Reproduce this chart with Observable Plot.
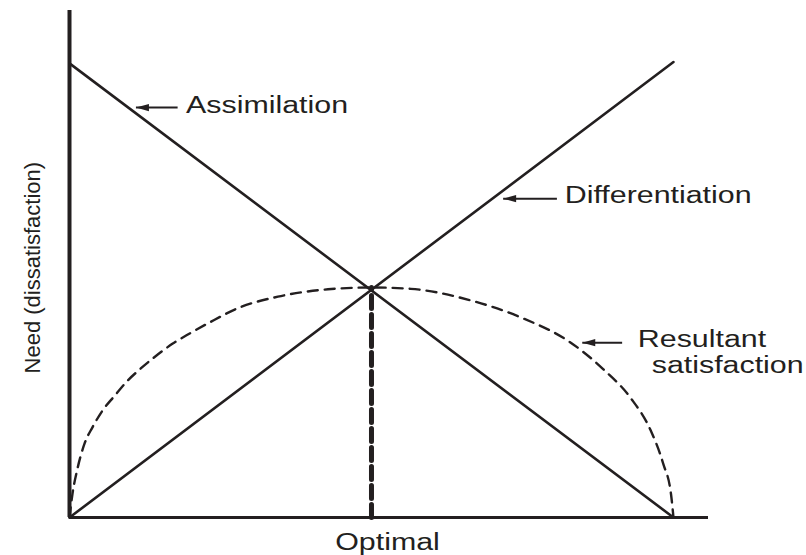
<!DOCTYPE html>
<html><head><meta charset="utf-8">
<script src="https://cdn.jsdelivr.net/npm/d3@7"></script>
<script src="https://cdn.jsdelivr.net/npm/@observablehq/plot@0.6"></script>
<style>body{margin:0;background:#fff}</style>
</head><body><div id="chart"></div>
<script>
// ---- data (in chart units) ----
const assimilationX = [0, 10];
const assimilationY = [9.87, 0];
const differentiationX = [0, 10];
const differentiationY = [0, 9.9];
const satisfactionX = [0, 0.05, 0.13, 0.25, 0.38, 0.55, 0.75, 0.93, 1.18, 1.42, 1.71, 1.99, 2.32, 2.79, 3.45, 4.28, 5.0, 5.65, 6.64, 7.47, 8.30, 8.84, 9.29, 9.62, 9.83, 9.96, 10];
const satisfactionY = [0, 0.52, 1.05, 1.61, 1.96, 2.33, 2.65, 2.93, 3.24, 3.50, 3.78, 4.0, 4.24, 4.55, 4.80, 4.96, 5.0, 4.97, 4.72, 4.35, 3.80, 3.22, 2.60, 1.90, 1.17, 0.50, 0];
const optimalX = [5, 5];
const optimalY = [0, 5];
const labelText = ["Assimilation", "Differentiation", "Resultant", "satisfaction"];
const labelX = [1.93, 8.20, 9.41, 9.64];
const labelY = [8.80, 6.83, 3.70, 3.13];
const arrowTailX = [1.79, 8.07, 9.15];
const arrowTipX = [1.10, 7.18, 8.49];
const arrowY = [8.91, 6.93, 3.80];
const xTitle = "Optimal";
const xTitleX = 4.40;
const xTitleY = -0.70;
const yTitle = "Need (dissatisfaction)";
const yTitleX = -0.61;
const yTitleY = 5.43;

// ---- tables ----
const zip = (xs, ys) => xs.map((x, i) => ({x, y: ys[i]}));
const assim = zip(assimilationX, assimilationY);
const diff = zip(differentiationX, differentiationY);
const sat = zip(satisfactionX, satisfactionY);
const opt = zip(optimalX, optimalY);
const labels = labelText.map((t, i) => ({t, x: labelX[i], y: labelY[i]}));
const arrows = arrowY.map((y, i) => ({x1: arrowTailX[i], x2: arrowTipX[i], y}));

const ink = "#231f20";
const font = "'Liberation Sans', Arial, Helvetica, sans-serif";
const head = {draw(ctx) { ctx.moveTo(0, 0); ctx.lineTo(13, -3.6); ctx.lineTo(13, 3.6); ctx.closePath(); }};

const chart = Plot.plot({
  width: 806, height: 555,
  marginLeft: 69, marginRight: 98, marginTop: 10, marginBottom: 38,
  x: {domain: [0, 10.58], axis: null},
  y: {domain: [0, 11.02], axis: null},
  style: {background: "#fff", fontFamily: font, overflow: "visible"},
  marks: [
    Plot.line(sat, {x: "x", y: "y", curve: "monotone-x", stroke: ink, strokeWidth: 2.4, strokeDasharray: "10,7"}),
    Plot.line(assim, {x: "x", y: "y", stroke: ink, strokeWidth: 2.6}),
    Plot.line(diff, {x: "x", y: "y", stroke: ink, strokeWidth: 2.6}),
    Plot.line(opt, {x: "x", y: "y", stroke: ink, strokeWidth: 5, strokeDasharray: "13,6"}),
    Plot.ruleX([0], {y1: 0, y2: 11.02, stroke: ink, strokeWidth: 4}),
    Plot.ruleY([0], {x1: 0, x2: 10.58, stroke: ink, strokeWidth: 3}),
    Plot.link(arrows, {x1: "x1", x2: "x2", y1: "y", y2: "y", stroke: ink, strokeWidth: 2}),
    Plot.dot(arrows, {x: "x2", y: "y", symbol: head, fill: ink, stroke: "none"}),
    Plot.text(labels, {x: "x", y: "y", text: "t", textAnchor: "start", lineAnchor: "bottom", fontSize: 23, fill: ink, fontFamily: font}),
    Plot.text([xTitle], {x: xTitleX, y: xTitleY, text: d => d, textAnchor: "start", lineAnchor: "bottom", fontSize: 23, fill: ink, fontFamily: font}),
    Plot.text([yTitle], {x: yTitleX, y: yTitleY, text: d => d, rotate: -90, textAnchor: "middle", lineAnchor: "middle", fontSize: 22, fill: ink, fontFamily: font})
  ]
});
document.getElementById("chart").append(chart);
// the reference is horizontally stretched: widen horizontal labels accordingly
chart.querySelectorAll('g[aria-label="text"] text').forEach(t => {
  const tr = t.getAttribute("transform") || "";
  if (tr.includes("rotate")) return;
  const len = t.getComputedTextLength();
  t.setAttribute("textLength", (len * 1.32).toFixed(1));
  t.setAttribute("lengthAdjust", "spacingAndGlyphs");
});
</script>
</body></html>
